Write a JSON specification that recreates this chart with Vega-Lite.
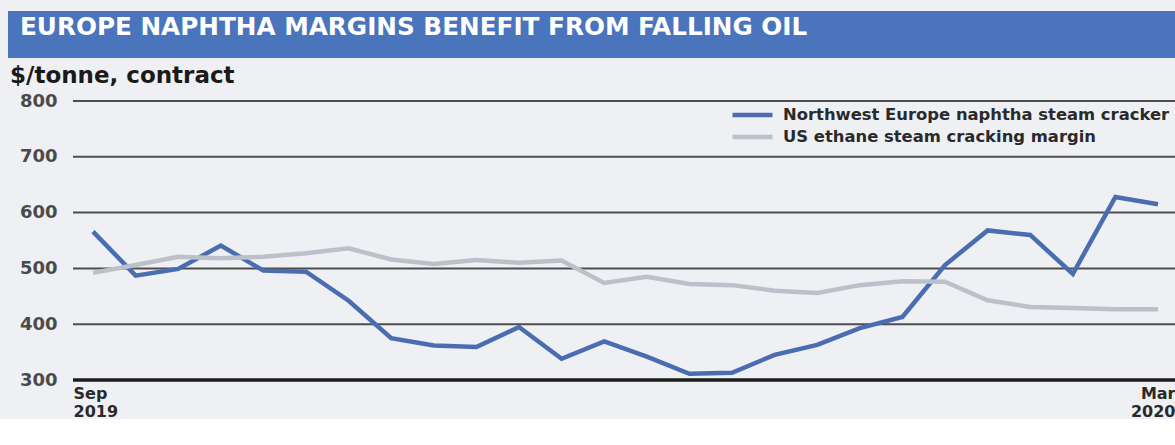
{
  "$schema": "https://vega.github.io/schema/vega-lite/v6.json",
  "background": "#eef0f4",
  "padding": {"left": 8, "top": 11, "right": 0, "bottom": 0},
  "config": {"view": {"stroke": null}, "font": "DejaVu Sans"},
  "spacing": 7,
  "vconcat": [
    {
      "width": 1167,
      "height": 47,
      "data": {"values": [{"headline": "EUROPE NAPHTHA MARGINS BENEFIT FROM FALLING OIL"}]},
      "layer": [
        {"mark": {"type": "rect", "color": "#4a74bb"}},
        {
          "mark": {"type": "text", "align": "left", "baseline": "alphabetic", "dx": 12, "font": "DejaVu Sans", "fontSize": 24.7, "fontWeight": "bold", "color": "#ffffff"},
          "encoding": {
            "text": {"field": "headline"},
            "x": {"datum": 0, "type": "quantitative", "scale": {"domain": [0, 1]}, "axis": null},
            "y": {"datum": 0.5, "type": "quantitative", "scale": {"domain": [0, 1]}, "axis": null}
          }
        }
      ]
    },
    {
      "width": 1167,
      "height": 279,
      "title": {
        "text": "$/tonne, contract",
        "anchor": "start",
        "frame": "group",
        "orient": "top",
        "offset": -14,
        "baseline": "alphabetic",
        "dx": 2,
        "font": "DejaVu Sans",
        "fontSize": 23,
        "fontWeight": "bold",
        "color": "#1a1a1a"
      },
      "encoding": {
        "y": {
          "type": "quantitative",
          "scale": {"domain": [300, 800], "nice": false, "zero": false},
          "axis": {
            "title": null,
            "values": [300, 400, 500, 600, 700, 800],
            "grid": false,
            "domain": false,
            "ticks": false,
            "offset": -65,
            "labelPadding": 16,
            "labelFont": "DejaVu Sans",
            "labelFontSize": 18,
            "labelFontWeight": "bold",
            "labelColor": "#4a4a4a"
          }
        }
      },
      "layer": [
        {
          "data": {"values": [{"v": 300}, {"v": 400}, {"v": 500}, {"v": 600}, {"v": 700}, {"v": 800}]},
          "mark": {"type": "rule"},
          "encoding": {
            "y": {"field": "v", "type": "quantitative"},
            "x": {"datum": {"year": 2019, "month": 9, "date": 2, "hours": 17, "utc": true}, "type": "temporal"},
            "x2": {"datum": {"year": 2020, "month": 3, "date": 1, "hours": 19, "utc": true}},
            "color": {"condition": {"test": "datum.v === 300", "value": "#1c1c1c"}, "value": "#4d4d4d"},
            "strokeWidth": {"condition": {"test": "datum.v === 300", "value": 3.5}, "value": 2}
          }
        },
        {
          "data": {
            "values": [
              {"date": "2019-09-06", "nwe": 566, "us": 492},
              {"date": "2019-09-13", "nwe": 487, "us": 506},
              {"date": "2019-09-20", "nwe": 499, "us": 521},
              {"date": "2019-09-27", "nwe": 541, "us": 518},
              {"date": "2019-10-04", "nwe": 496, "us": 521},
              {"date": "2019-10-11", "nwe": 494, "us": 527},
              {"date": "2019-10-18", "nwe": 442, "us": 536},
              {"date": "2019-10-25", "nwe": 375, "us": 516},
              {"date": "2019-11-01", "nwe": 362, "us": 508},
              {"date": "2019-11-08", "nwe": 359, "us": 515},
              {"date": "2019-11-15", "nwe": 395, "us": 510},
              {"date": "2019-11-22", "nwe": 338, "us": 514},
              {"date": "2019-11-29", "nwe": 369, "us": 474},
              {"date": "2019-12-06", "nwe": 342, "us": 485},
              {"date": "2019-12-13", "nwe": 311, "us": 472},
              {"date": "2019-12-20", "nwe": 313, "us": 470},
              {"date": "2019-12-27", "nwe": 345, "us": 460},
              {"date": "2020-01-03", "nwe": 363, "us": 456},
              {"date": "2020-01-10", "nwe": 393, "us": 470},
              {"date": "2020-01-17", "nwe": 413, "us": 477},
              {"date": "2020-01-24", "nwe": 506, "us": 476},
              {"date": "2020-01-31", "nwe": 568, "us": 443},
              {"date": "2020-02-07", "nwe": 560, "us": 431},
              {"date": "2020-02-14", "nwe": 490, "us": 429},
              {"date": "2020-02-21", "nwe": 628, "us": 427},
              {"date": "2020-02-28", "nwe": 615, "us": 427}
            ]
          },
          "transform": [
            {"fold": ["nwe", "us"], "as": ["key", "value"]},
            {"lookup": "key", "from": {"data": {"values": [
              {"key": "nwe", "series": "Northwest Europe naphtha steam cracker"},
              {"key": "us", "series": "US ethane steam cracking margin"}
            ]}, "key": "key", "fields": ["series"]}}
          ],
          "mark": {"type": "line", "strokeWidth": 4.5},
          "encoding": {
            "x": {
              "field": "date",
              "type": "temporal",
              "scale": {
                "type": "utc",
                "domain": [
                  {"year": 2019, "month": 9, "date": 2, "hours": 17, "utc": true},
                  {"year": 2020, "month": 3, "date": 1, "hours": 19, "utc": true}
                ],
                "range": [65, 1167]
              },
              "axis": {
                "title": null,
                "grid": false,
                "ticks": false,
                "domain": false,
                "values": [
                  {"year": 2019, "month": 9, "date": 2, "hours": 17, "utc": true},
                  {"year": 2020, "month": 3, "date": 1, "hours": 19, "utc": true}
                ],
                "labelExpr": "[utcFormat(datum.value, '%b'), utcFormat(datum.value, '%Y')]",
                "labelFlush": true,
                "labelPadding": 5,
                "labelFont": "DejaVu Sans",
                "labelFontSize": 16,
                "labelFontWeight": "bold",
                "labelColor": "#2a2a2a",
                "labelLineHeight": 18,
                "labelBaseline": "top"
              }
            },
            "y": {"field": "value", "type": "quantitative"},
            "color": {
              "field": "series",
              "type": "nominal",
              "scale": {
                "domain": ["Northwest Europe naphtha steam cracker", "US ethane steam cracking margin"],
                "range": ["#4a6db2", "#bcc1c9"]
              },
              "legend": {
                "title": null,
                "orient": "none",
                "legendX": 722,
                "legendY": 94,
                "symbolType": "stroke",
                "symbolSize": 1600,
                "symbolStrokeWidth": 4.5,
                "labelOffset": 8,
                "clipHeight": 20,
                "rowPadding": 2,
                "padding": 0,
                "labelLimit": 0,
                "labelFont": "DejaVu Sans",
                "labelFontSize": 16.4,
                "labelFontWeight": "bold",
                "labelColor": "#2a2a2a"
              }
            }
          }
        }
      ]
    }
  ]
}
